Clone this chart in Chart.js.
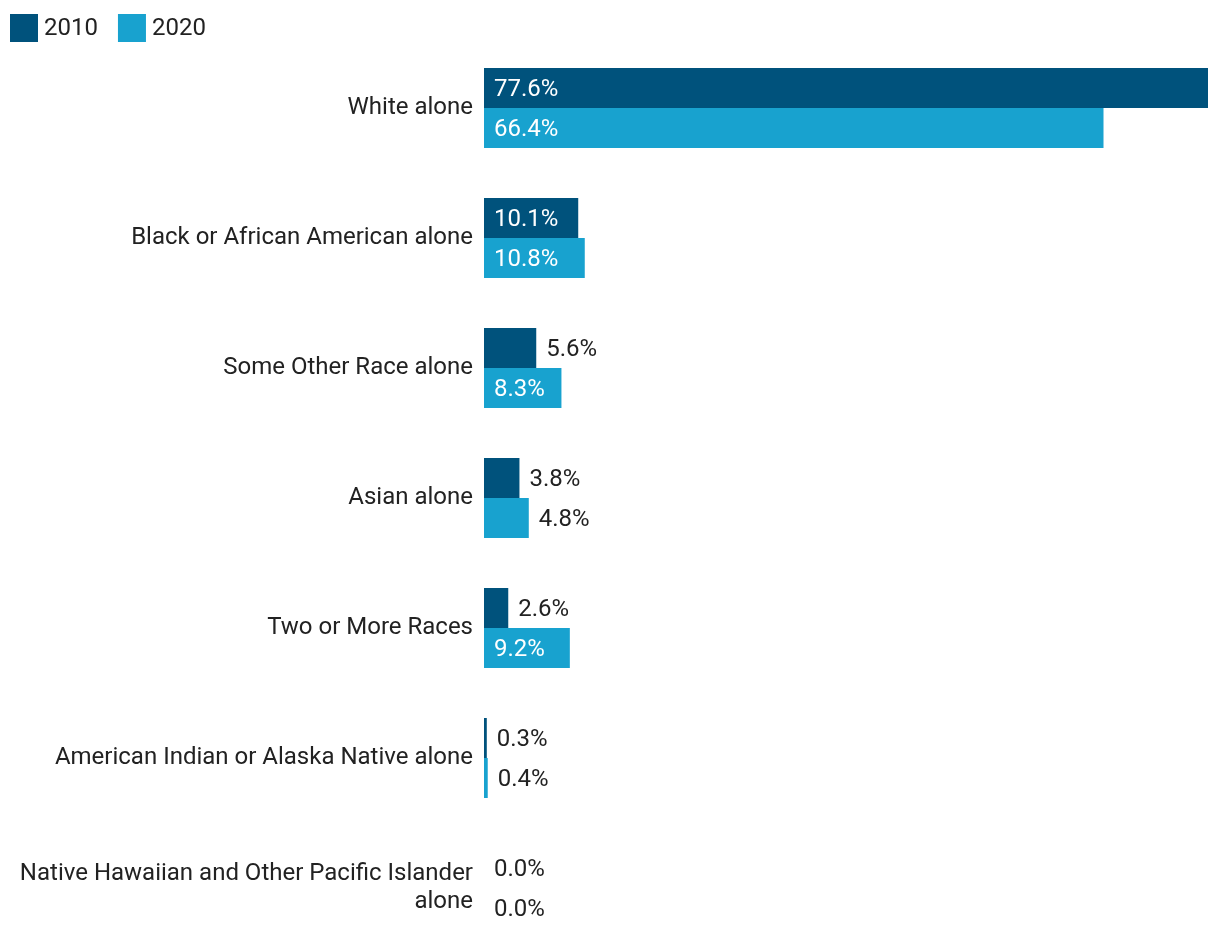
<!DOCTYPE html>
<html>
<head>
<meta charset="utf-8">
<script src="https://cdn.jsdelivr.net/npm/chart.js@4"></script>
<style>
    html, body { margin: 0; padding: 0; background: #fff; overflow: hidden; }
    canvas { display: block; }
</style>
</head>
<body>
<canvas id="raceChart" width="1220" height="953"></canvas>
<script>
const categories = [
    'White alone',
    'Black or African American alone',
    'Some Other Race alone',
    'Asian alone',
    'Two or More Races',
    'American Indian or Alaska Native alone',
    ['Native Hawaiian and Other Pacific Islander', 'alone']
];
const values2010 = [77.6, 10.1, 5.6, 3.8, 2.6, 0.3, 0.0];
const values2020 = [66.4, 10.8, 8.3, 4.8, 9.2, 0.4, 0.0];
const seriesNames = ['2010', '2020'];
const seriesColors = ['#00527c', '#18a2cf'];

const FONT = 'Roboto, "Noto Sans", sans-serif';
const TEXT = '#222222';

// Draw the percent label inside the bar when it fits, otherwise just past the end
const barLabels = {
    id: 'barLabels',
    afterDatasetsDraw(chart) {
        const ctx = chart.ctx;
        ctx.save();
        ctx.font = '24px ' + FONT;
        ctx.textBaseline = 'alphabetic';
        ctx.textAlign = 'left';
        chart.data.datasets.forEach((ds, i) => {
            const meta = chart.getDatasetMeta(i);
            meta.data.forEach((bar, j) => {
                const text = ds.data[j].toFixed(1) + '%';
                const w = ctx.measureText(text).width;
                const barW = bar.x - bar.base;
                // baseline a bit below centre so the digits look centred
                const y = bar.y + 8;
                if (barW > w + 20) {
                    ctx.fillStyle = '#ffffff';
                    ctx.fillText(text, bar.base + 10, y);
                } else {
                    ctx.fillStyle = TEXT;
                    ctx.fillText(text, bar.x + 10, y);
                }
            });
        });
        ctx.restore();
    }
};

// simple legend in the top-left corner (the built-in one spaces text too wide)
const topLegend = {
    id: 'topLegend',
    afterDraw(chart) {
        const ctx = chart.ctx;
        ctx.save();
        ctx.font = '24px ' + FONT;
        ctx.textBaseline = 'alphabetic';
        ctx.textAlign = 'left';
        let x = 10;
        chart.data.datasets.forEach(ds => {
            ctx.fillStyle = ds.backgroundColor;
            ctx.fillRect(x, 14, 28, 28);
            ctx.fillStyle = TEXT;
            ctx.fillText(ds.label, x + 34, 35);
            x += 34 + ctx.measureText(ds.label).width + 20;
        });
        ctx.restore();
    }
};

new Chart(document.getElementById('raceChart'), {
    type: 'bar',
    data: {
        labels: categories,
        datasets: seriesNames.map((name, i) => ({
            label: name,
            data: i === 0 ? values2010 : values2020,
            backgroundColor: seriesColors[i],
            barPercentage: 1,
            categoryPercentage: 80 / 130
        }))
    },
    plugins: [barLabels, topLegend],
    options: {
        indexAxis: 'y',
        responsive: false,
        animation: false,
        layout: { padding: { top: 43, right: 12, bottom: 0, left: 0 } },
        scales: {
            x: {
                display: false,
                min: 0,
                max: 77.6
            },
            y: {
                grid: { display: false, drawTicks: false },
                border: { display: false },
                afterFit(scale) {
                    scale.width = 484;
                    // labels sit inside their bands, no extra room needed
                    scale.paddingTop = 0;
                    scale.paddingBottom = 0;
                },
                ticks: {
                    padding: 11,
                    color: TEXT,
                    font: { family: FONT, size: 24, lineHeight: 28 / 24 }
                }
            }
        },
        plugins: {
            legend: { display: false },
            tooltip: { enabled: false }
        }
    }
});
</script>
</body>
</html>
